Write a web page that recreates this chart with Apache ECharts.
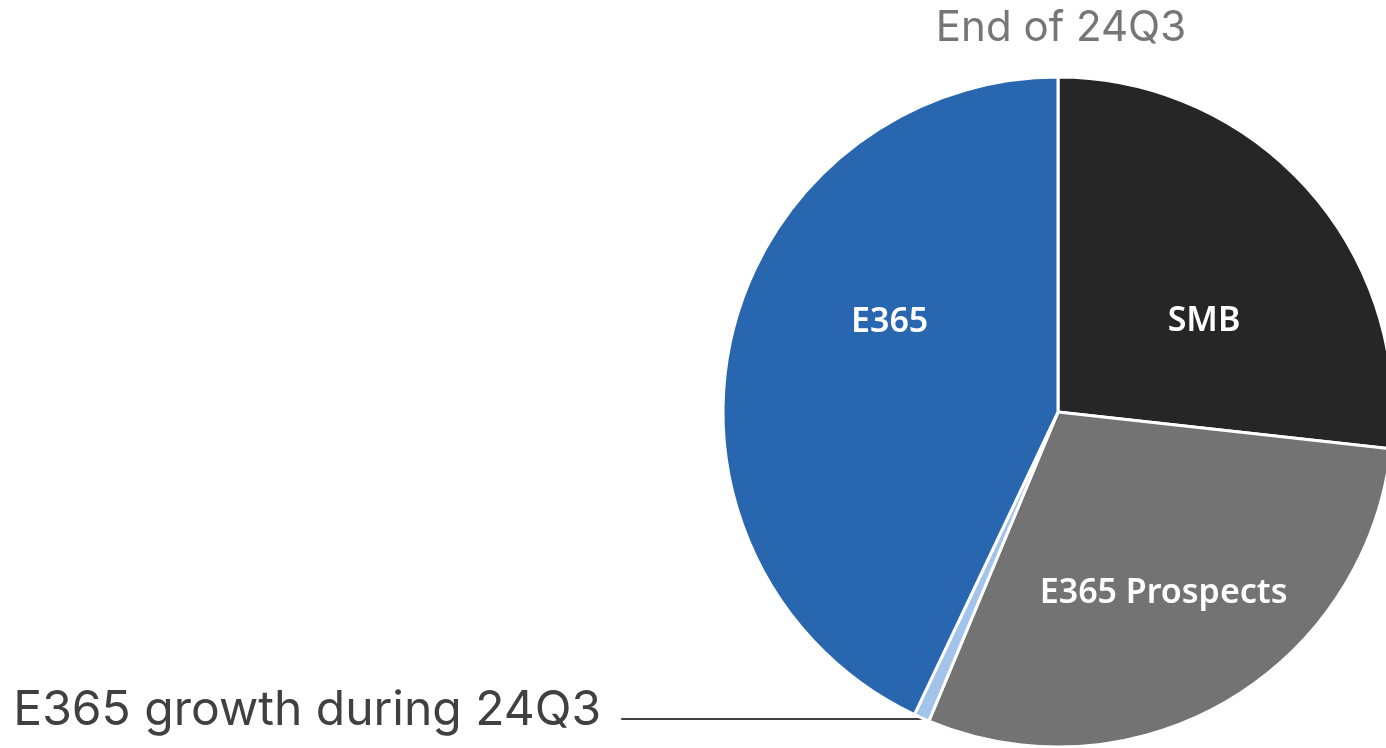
<!DOCTYPE html>
<html>
<head>
<meta charset="utf-8">
<script src="https://cdn.jsdelivr.net/npm/echarts@6/dist/echarts.min.js"></script>
<style>
  html, body { margin: 0; padding: 0; background: #ffffff; }
  #chart { width: 1386px; height: 748px; }
</style>
</head>
<body>
<div id="chart"></div>
<script>
// Customer base split at the end of 24Q3 (share of total, %)
const segments = ['SMB', 'E365 Prospects', 'E365 growth during 24Q3', 'E365'];
const shares = [26.75, 29.55, 0.75, 42.95];
const segmentColors = ['#262626', '#737373', '#A3C4EA', '#2966B0'];
const chartTitle = 'End of 24Q3';

// nudges for the in-slice labels, by data index
const labelShift = [[19, 23], [19, 34], [0, 0], [-2, -52]];

const chart = echarts.init(document.getElementById('chart'), null, { renderer: 'canvas' });

const data = segments.map(function (name, i) {
  const item = {
    name: name,
    value: shares[i],
    itemStyle: { color: segmentColors[i] }
  };
  if (i === 2) {
    // callout to the left; an empty spacer line lifts the text above the leader
    item.label = {
      show: true,
      position: 'outside',
      alignTo: 'none',
      formatter: '{b}\n{gap| }',
      color: '#404040',
      fontFamily: 'Inter',
      fontWeight: 'normal',
      fontSize: 48,
      distanceToLabelLine: 20,
      rich: {
        gap: { fontSize: 1, lineHeight: 17 }
      }
    };
    item.labelLine = {
      show: true,
      length: 1,
      length2: 300,
      smooth: false,
      lineStyle: { color: '#404040', width: 2 }
    };
  }
  return item;
});

chart.setOption({
  animation: false,
  title: {
    text: chartTitle,
    left: 1056,
    top: 2,
    textAlign: 'center',
    textStyle: {
      color: '#767676',
      fontFamily: 'Inter',
      fontWeight: 'normal',
      fontSize: 42
    }
  },
  series: [{
    type: 'pie',
    center: [1058, 412],
    radius: [0, 335],
    startAngle: 90,
    clockwise: true,
    avoidLabelOverlap: false,
    itemStyle: { borderColor: '#ffffff', borderWidth: 3 },
    label: {
      show: true,
      position: 'inside',
      formatter: '{b}',
      color: '#ffffff',
      fontFamily: 'Noto Sans',
      fontWeight: 600,
      fontSize: 34
    },
    labelLine: { show: false },
    labelLayout: function (params) {
      const s = labelShift[params.dataIndex];
      return { dx: s[0], dy: s[1] };
    },
    emphasis: { disabled: true },
    data: data
  }]
});
</script>
</body>
</html>
